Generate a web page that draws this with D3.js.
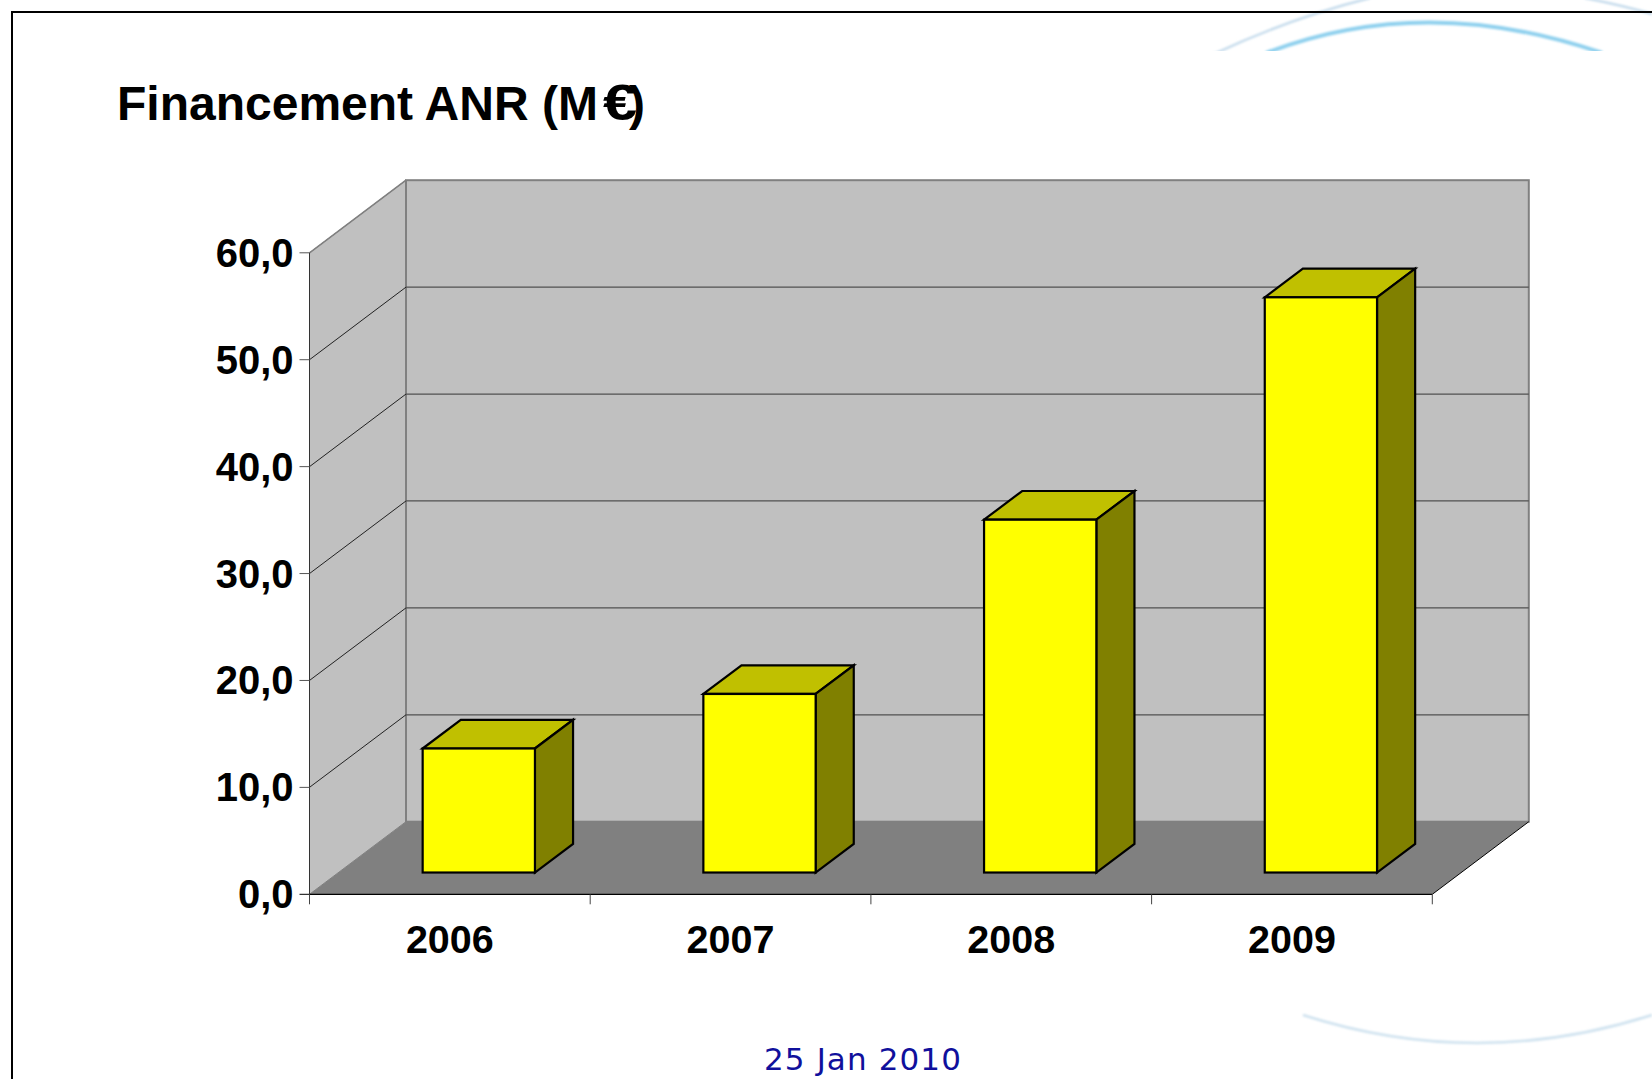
<!DOCTYPE html>
<html><head><meta charset="utf-8">
<script src="https://cdn.jsdelivr.net/npm/d3@7"></script>
<style>html,body{margin:0;padding:0;background:#fff;overflow:hidden}svg{display:block}text{font-family:"Liberation Sans",Arial,sans-serif;font-weight:bold;fill:#000}</style>
</head><body><svg id="c" width="1652" height="1079"></svg>
<script>
const categories = ["2006","2007","2008","2009"];
const values = [11.6,16.7,33.0,53.8];
const yTicks = [0,10,20,30,40,50,60];
const tickLabels = ["0,0","10,0","20,0","30,0","40,0","50,0","60,0"];
const titleText = "Financement ANR (M";
const dateText = "25 Jan 2010";

const svg = d3.select("#c");
const y = d3.scaleLinear().domain([0,60]).range([894.3,252.8]);
const x = d3.scaleBand().domain(categories).range([309.5,1432.3]);
const DX = 96.5, DY = -72.6;               // oblique depth of the chart box
const depthFront = 0.3, barDepth = 0.395;   // bar position and depth in that box
const barW = 0.4;

// decorative arcs
const defs = svg.append("defs");
defs.append("clipPath").attr("id","topclip").append("rect").attr("x",1180).attr("y",0).attr("width",472).attr("height",51);
defs.append("filter").attr("id","soft").append("feGaussianBlur").attr("stdDeviation",0.8);
const deco = svg.append("g").attr("fill","none");
const arcs = deco.append("g").attr("clip-path","url(#topclip)");
const arcsSoft = arcs.append("g").attr("filter","url(#soft)");
arcsSoft.append("path").attr("d","M1212,55 Q1290,18 1370,-2").attr("stroke","#c6dcec").attr("stroke-width",2.5);
arcsSoft.append("path").attr("d","M1585,-2 Q1625,6 1652,14").attr("stroke","#c6dcec").attr("stroke-width",2.5);
arcsSoft.append("path").attr("d","M1266,53 Q1425,-8 1602,53").attr("stroke","#8fd0ee").attr("stroke-width",4);
deco.append("path").attr("filter","url(#soft)").attr("d","M1303,1015 Q1477,1071 1652,1015").attr("stroke","#cfe2ef").attr("stroke-width",2.5);

// slide frame
svg.append("path").attr("d","M12,1079V12H1652").attr("fill","none").attr("stroke","#000").attr("stroke-width",2);

// title
svg.append("text").attr("x",117).attr("y",120).attr("font-size",48).text(titleText);
svg.append("text").attr("transform","translate(603,120) scale(1.28,1.04)").attr("font-size",48).text("\u20AC");
svg.append("text").attr("x",629).attr("y",120).attr("font-size",48).text(")");

const x0 = x.range()[0], x1 = x.range()[1], yb = y(0), yt = y(60);
const P = pts => pts.map(p=>p.join(",")).join(" ");
const g = svg.append("g");

// walls and floor
g.append("polygon").attr("points",P([[x0,yb],[x0+DX,yb+DY],[x0+DX,yt+DY],[x0,yt]])).attr("fill","#c0c0c0").attr("stroke","#808080").attr("stroke-width",1);
g.append("rect").attr("x",x0+DX).attr("y",yt+DY).attr("width",x1-x0).attr("height",yb-yt).attr("fill","#c0c0c0").attr("stroke","#808080").attr("stroke-width",2);
g.append("polygon").attr("points",P([[x0,yb],[x0+DX,yb+DY],[x1+DX,yb+DY],[x1,yb]])).attr("fill","#808080");

// gridlines
const grid = yTicks.filter(d=>d>0 && d<60);
g.selectAll(".gb").data(grid).join("line").attr("x1",x0+DX).attr("x2",x1+DX).attr("y1",d=>y(d)+DY).attr("y2",d=>y(d)+DY).attr("stroke","#505050").attr("stroke-width",1.3);
g.selectAll(".gs").data(grid).join("line").attr("x1",x0).attr("x2",x0+DX).attr("y1",d=>y(d)).attr("y2",d=>y(d)+DY).attr("stroke","#222").attr("stroke-width",1);
g.append("line").attr("x1",x0).attr("x2",x0+DX).attr("y1",yt).attr("y2",yt+DY).attr("stroke","#808080").attr("stroke-width",1.5);

// floor edge lines
g.append("line").attr("x1",x1).attr("y1",yb).attr("x2",x1+DX).attr("y2",yb+DY).attr("stroke","#000").attr("stroke-width",1);
g.append("line").attr("x1",x0).attr("y1",yb).attr("x2",x1).attr("y2",yb).attr("stroke","#000").attr("stroke-width",1.2);
g.append("line").attr("x1",x0).attr("y1",yb).attr("x2",x0).attr("y2",yt).attr("stroke","#333").attr("stroke-width",1);

// axis ticks
g.selectAll(".ty").data(yTicks).join("line").attr("x1",x0-10).attr("x2",x0).attr("y1",d=>y(d)).attr("y2",d=>y(d)).attr("stroke",d=>d===0?"#000":"#555").attr("stroke-width",1);
const xt = [...categories.map(c=>x(c)), x1];
g.selectAll(".tx").data(xt).join("line").attr("x1",d=>d).attr("x2",d=>d).attr("y1",yb).attr("y2",yb+10).attr("stroke","#444").attr("stroke-width",1);

// labels
g.selectAll(".ly").data(yTicks).join("text").attr("x",x0-16).attr("y",d=>y(d)+14).attr("text-anchor","end").attr("font-size",40).text((d,i)=>tickLabels[i]);
g.selectAll(".lx").data(categories).join("text").attr("x",d=>x(d)+x.bandwidth()/2).attr("y",953).attr("text-anchor","middle").attr("font-size",39.5).text(d=>d);

// bars
const bx = c => x(c)+x.bandwidth()/2 + DX*depthFront - barW*x.bandwidth()/2;
const bw = barW*x.bandwidth();
const ox = DY*depthFront, dX = DX*barDepth, dY = DY*barDepth;
const bar = g.selectAll(".bar").data(categories.map((c,i)=>({c,v:values[i]}))).join("g").attr("stroke","#000").attr("stroke-width",2.2).attr("stroke-linejoin","miter");
bar.append("polygon").attr("fill","#c0c000").attr("points",d=>{const l=bx(d.c),t=y(d.v)+ox;return P([[l,t],[l+dX,t+dY],[l+bw+dX,t+dY],[l+bw,t]]);});
bar.append("polygon").attr("fill","#808000").attr("points",d=>{const r=bx(d.c)+bw,t=y(d.v)+ox,b=y(0)+ox;return P([[r,t],[r+dX,t+dY],[r+dX,b+dY],[r,b]]);});
bar.append("rect").attr("fill","#ffff00").attr("x",d=>bx(d.c)).attr("y",d=>y(d.v)+ox).attr("width",bw).attr("height",d=>y(0)-y(d.v));

// date
svg.append("text").attr("x",863).attr("y",1070).attr("text-anchor","middle").attr("font-size",31).attr("letter-spacing",1.1).style("font-family","'DejaVu Sans',sans-serif").style("font-weight","normal").style("fill","#10109c").text(dateText);
</script></body></html>
